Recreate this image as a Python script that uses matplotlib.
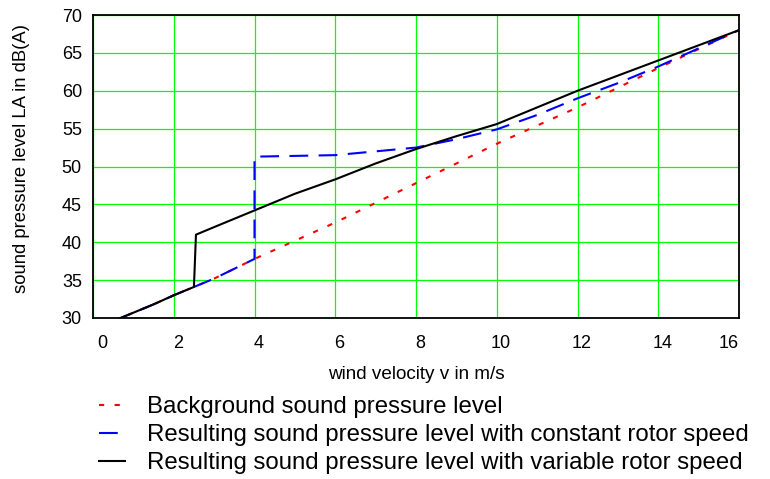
import matplotlib
matplotlib.use("Agg")
import matplotlib.pyplot as plt
import matplotlib.transforms as mtransforms

plt.rcParams['font.family'] = ['Liberation Sans', 'DejaVu Sans']

# vent (m/s) et niveaux (dB(A))
wind_bg = [0.5, 1, 1.5, 2, 2.5, 3, 4, 5, 6, 7, 8, 9, 10, 11, 12, 13, 14, 15, 16]
level_bg = [29.6, 30.7, 31.8, 33.0, 34.1, 35.2, 37.8, 40.2, 42.6, 45.2, 47.8,
            50.4, 53.0, 55.4, 57.8, 60.4, 63.0, 65.5, 68.0]

wind_const = [0.5, 1, 1.5, 2, 2.5, 3, 4, 4, 5, 6, 7, 8, 9, 10, 11, 12, 13, 14, 15, 16]
level_const = [29.6, 30.7, 31.8, 33.0, 34.1, 35.2, 37.8, 51.3, 51.4, 51.5, 52.0,
               52.5, 53.6, 54.9, 56.8, 59.0, 61.0, 63.2, 65.6, 68.0]

wind_var = [0.5, 1, 1.5, 2, 2.5, 2.55, 3, 4, 5, 6, 7, 8, 9, 10, 11, 12, 13, 14, 15, 16]
level_var = [29.6, 30.7, 31.8, 33.0, 34.1, 41.0, 42.0, 44.2, 46.4, 48.3, 50.4,
             52.3, 54.0, 55.6, 57.8, 60.0, 62.0, 64.0, 66.0, 68.0]

labels = ['Background sound pressure level',
          'Resulting sound pressure level with constant rotor speed',
          'Resulting sound pressure level with variable rotor speed']

fig = plt.figure(figsize=(7.7, 4.79), dpi=100)
ax = fig.add_axes([93 / 770, 1 - 318 / 479, (739 - 93) / 770, (318 - 15) / 479])

l1, = ax.plot(wind_bg, level_bg, color='red', lw=1.5, dashes=(2.5, 5))
l2, = ax.plot(wind_const, level_const, color='blue', lw=1.5, dashes=(9, 5))
l3, = ax.plot(wind_var, level_var, color='black', lw=1.5)

ax.set_xlim(0, 16)
ax.set_ylim(30, 70)
ax.set_xticks(range(0, 17, 2))
ax.set_yticks(range(30, 71, 5))
ax.grid(True, color='#00ff00', lw=0.9)
ax.tick_params(length=0, labelsize=13)
ax.tick_params(axis='x', pad=12)
ax.tick_params(axis='y', pad=8)
for s in ax.spines.values():
    s.set_linewidth(1.3)
    s.set_color('black')

# petit decalage des etiquettes x vers la droite
decal = mtransforms.ScaledTranslation(0.04, 0, fig.dpi_scale_trans)
xl = ax.get_xticklabels()
for t in xl[:-1]:
    t.set_transform(t.get_transform() + decal)
xl[0].set_ha('left')
xl[-1].set_ha('right')

ax.set_xlabel('wind velocity v in m/s', fontsize=13.6, labelpad=10)
ax.set_ylabel('sound pressure level LA in dB(A)', fontsize=13.3)
ax.yaxis.set_label_coords(-0.0975, 0.525)

fig.legend([l1, l2, l3], labels, loc='upper left', bbox_to_anchor=(99 / 770, 1 - 396.5 / 479),
           frameon=False, fontsize=17.3, handlelength=1.08, handletextpad=0.9,
           labelspacing=0.24, borderpad=0, borderaxespad=0)

fig.savefig('out.png', dpi=100)
